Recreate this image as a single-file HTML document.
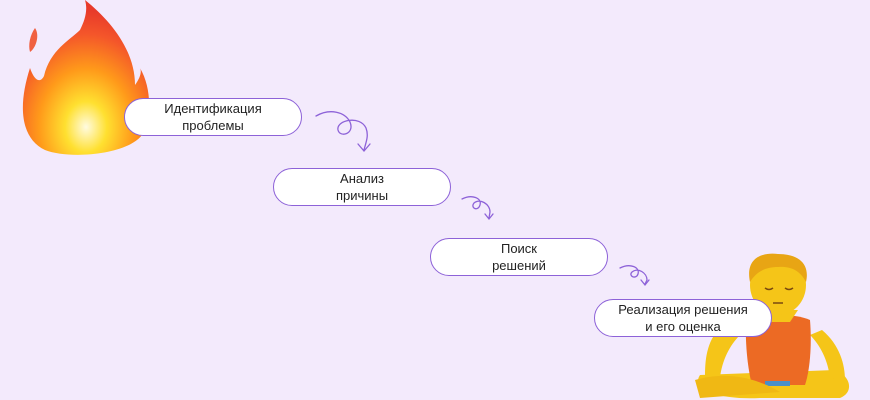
<!DOCTYPE html>
<html><head><meta charset="utf-8"><style>
body{margin:0;width:870px;height:400px;background:#f3eafc;overflow:hidden;position:relative;font-family:"Liberation Sans","DejaVu Sans",sans-serif}
.p{position:absolute;width:176px;height:36px;border:1.5px solid #8d62d8;border-radius:20px;background:#fff;font-size:13px;line-height:17px;color:#222;text-align:center;display:flex;align-items:center;justify-content:center}
svg{position:absolute;left:0;top:0}
</style></head><body>
<svg width="870" height="400">
<defs>
<radialGradient id="f" cx="0.5" cy="0.82" r="0.75"><stop offset="0" stop-color="#fffbe0"/><stop offset="0.22" stop-color="#ffe030"/><stop offset="0.5" stop-color="#ff9a1a"/><stop offset="0.8" stop-color="#f4562a"/><stop offset="1" stop-color="#e83a2a"/></radialGradient>
</defs>
<path d="M85 0 C110 20 135 50 135 85 C140 78 142 72 140 68 C150 85 152 110 145 130 C135 155 70 160 45 150 C20 138 18 105 30 68 C34 80 40 84 44 76 C50 50 70 40 80 30 C85 20 88 10 85 0 Z" fill="url(#f)"/>
<path d="M35 28 C40 35 36 48 30 52 C28 45 30 35 35 28 Z" fill="#f06040"/>
<g fill="none" stroke="#8d62d8" stroke-width="1.3" stroke-linecap="round">
<path d="M316 116 C330 108 345 112 350 122 C355 134 340 138 338 130 C336 120 360 115 366 128 C369 136 366 142 364 150"/>
<path d="M358 144 L364 151 L370 144"/>
<path d="M462 199 C472 194 482 198 480 205 C478 212 470 208 474 203 C480 198 490 204 490 212 L489 218"/>
<path d="M485 214 L489 219 L493 214"/>
<path d="M620 268 C630 263 640 267 638 274 C636 280 628 276 632 272 C638 267 647 273 647 280 L645 284"/>
<path d="M641 280 L645 285 L649 280"/>
</g>
<g>
<path d="M700 375 C690 390 720 400 760 398 L840 398 C855 392 850 375 835 370 Z" fill="#f5c518"/>
<path d="M718 330 C705 345 705 365 705 380 L720 378 C722 360 730 345 740 335 Z" fill="#f5c518"/>
<path d="M822 330 C840 345 845 365 845 380 L830 378 C828 360 820 345 810 335 Z" fill="#f5c518"/>
<path d="M746 320 C745 345 748 370 752 385 L805 385 C810 370 812 345 810 320 C795 313 760 313 746 320 Z" fill="#ec6a24"/>
<path d="M760 310 L770 322 L790 322 L798 310 Z" fill="#f5c518"/>
<ellipse cx="778" cy="285" rx="28" ry="30" fill="#f5c518"/>
<path d="M750 282 C745 258 762 252 778 254 C800 254 810 265 806 282 C800 270 790 266 778 267 C765 267 756 272 750 282 Z" fill="#e8a514"/>
<path d="M765 288 q4 3 8 0 M785 288 q4 3 8 0 M773 303 h10" stroke="#7a4a10" stroke-width="1.5" fill="none"/>
<rect x="765" y="381" width="25" height="5" fill="#4a8fc8"/>
<path d="M695 380 C730 370 760 380 780 392 L700 398 Z" fill="#f0b814"/>
</g>
</svg>
<div class="p" style="left:124px;top:98px">Идентификация<br>проблемы</div>
<div class="p" style="left:273px;top:168px">Анализ<br>причины</div>
<div class="p" style="left:430px;top:238px">Поиск<br>решений</div>
<div class="p" style="left:594px;top:299px">Реализация решения<br>и его оценка</div>
</body></html>
